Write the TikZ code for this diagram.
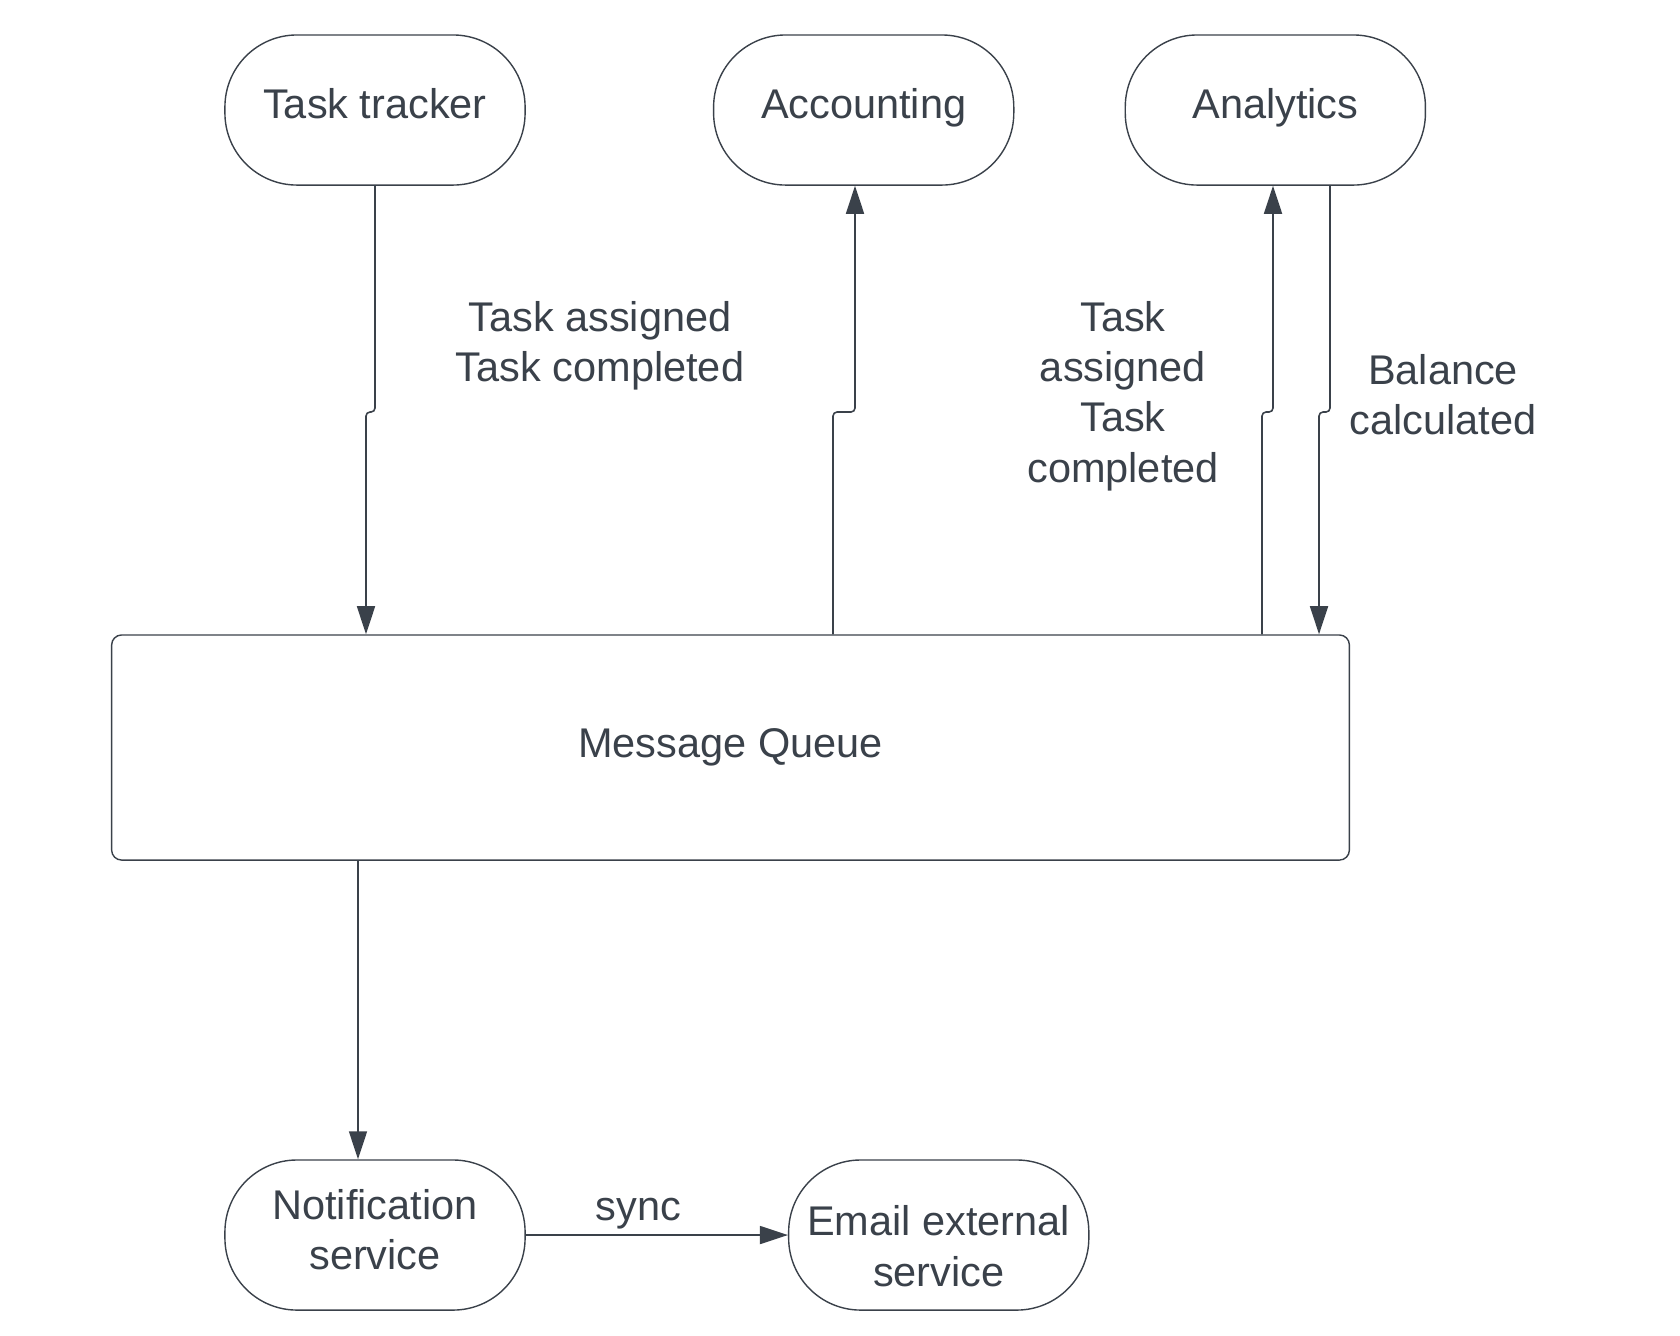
\documentclass[tikz,border=0pt]{standalone}
\usepackage{fontspec}
\setmainfont{Liberation Sans}
\usepackage{tikz}
\usetikzlibrary{positioning, arrows.meta}
\definecolor{ink}{HTML}{3A414A}

\begin{document}
\begin{tikzpicture}[x=0.01cm, y=-0.01cm, node distance=1.87cm,
  every node/.style={text=ink, font=\fontsize{11.8}{14.3}\selectfont},
  term node/.style={draw=ink, line width=0.4pt, rounded corners=0.72cm,
    minimum width=3cm, minimum height=1.5cm, align=center},
  top node/.style={term node, text height=0.75em, text depth=0.25em},
  queue node/.style={draw=ink, line width=0.4pt, rounded corners=0.1cm,
    minimum width=12.37cm, minimum height=2.25cm},
  flow/.style={draw=ink, line width=0.45pt, rounded corners=0.04cm,
    -{Triangle[length=0.28cm, width=0.18cm]}},
  note/.style={align=center}]

\useasboundingbox (0,0) rectangle (1680,1335);

\node[top node] (tt) at (375,110) {Task tracker};
\node[top node] (acc) [right=of tt] {Accounting};
\node[top node] (ana) [right=1.1cm of acc] {Analytics};
\node[queue node] (mq) at (730.5,747.5) {Message Queue};
\node[term node] (notif) at (375,1235) {Notification\\service\rule[-0.11cm]{0pt}{0pt}};
\node[term node] (email) [right=2.62cm of notif] {\rule{0pt}{0.52cm}Email external\\service};

\node[note] (evt tt) at (600,346) {Task assigned\\Task completed};
\node[note] (evt ana) at (1123,396) {Task\\assigned\\Task\\completed};
\node[note] (evt bal) at (1443,395) {Balance\\calculated};

\coordinate (jog) at (0,412);

\draw[flow] (tt.south) -- (tt.south |- jog) -- ++(-9,0) coordinate (ttjog) -- (ttjog |- mq.north);
\draw[flow] (833,0 |- mq.north) -- (833,0 |- jog) -- ++(22,0) coordinate (accjog) -- (accjog |- acc.south);
\draw[flow] (1262,0 |- mq.north) -- (1262,0 |- jog) -- ++(11,0) coordinate (anajog) -- (anajog |- ana.south);
\draw[flow] (1330,0 |- ana.south) -- (1330,0 |- jog) -- ++(-11,0) coordinate (baljog) -- (baljog |- mq.north);
\draw[flow] (358,0 |- mq.south) -- (358,0 |- notif.north);

\path (notif) edge[flow] node[above, pos=0.43, inner sep=1.5pt] {sync} (email);

\end{tikzpicture}
\end{document}
